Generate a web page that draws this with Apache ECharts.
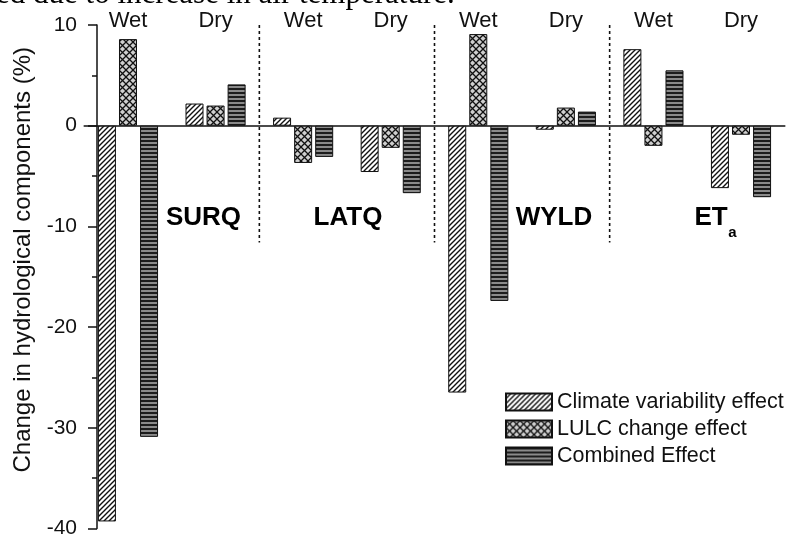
<!DOCTYPE html>
<html>
<head>
<meta charset="utf-8">
<script src="https://cdn.jsdelivr.net/npm/echarts@6/dist/echarts.min.js"></script>
<style>
  html, body { margin: 0; padding: 0; background: #fff; }
  #chart { width: 788px; height: 539px; }
</style>
</head>
<body>
<div id="chart"></div>
<script>
// Hydrological components and the two seasons plotted for each
const components = ['SURQ', 'LATQ', 'WYLD', 'ET'];
const seasons = ['Wet', 'Dry'];
const categories = components.flatMap(c => seasons.map(s => c + ' ' + s));

// Change (%) per component/season
const climateEffect  = [-39.3, 2.2, 0.8, -4.6, -26.5, -0.4, 7.6, -6.2];
const lulcEffect     = [8.6, 2.0, -3.7, -2.2, 9.1, 1.8, -2.0, -0.9];
const combinedEffect = [-30.9, 4.1, -3.1, -6.7, -17.4, 1.4, 5.5, -7.1];

const seriesNames = ['Climate variability effect', 'LULC change effect', 'Combined Effect'];
const yTicks = { min: -40, max: 10, step: 10 };

// Dashed dividers sit between the component groups (category-band units)
const dividerPositions = [1.5, 3.5, 5.5];
const dividerRange = [10, -11.6];

const FONT = "'Liberation Sans', Arial, sans-serif";

function makePattern(size, draw) {
  const c = document.createElement('canvas');
  c.width = size[0]; c.height = size[1];
  const ctx = c.getContext('2d');
  draw(ctx, size[0], size[1]);
  return { image: c, repeat: 'repeat' };
}

// Fine diagonal hatching
const hatchPattern = makePattern([5, 5], (ctx, w, h) => {
  ctx.fillStyle = '#fff'; ctx.fillRect(0, 0, w, h);
  ctx.strokeStyle = '#111'; ctx.lineWidth = 1.4;
  ctx.beginPath();
  ctx.moveTo(-1, h + 1); ctx.lineTo(w + 1, -1);
  ctx.moveTo(-1 - w, h + 1); ctx.lineTo(1, -1);
  ctx.moveTo(w - 1, h + 1); ctx.lineTo(2 * w + 1, -1);
  ctx.stroke();
});

// Cross-hatch lattice
const crossPattern = makePattern([7, 7], (ctx, w, h) => {
  ctx.fillStyle = '#cfcfcf'; ctx.fillRect(0, 0, w, h);
  ctx.strokeStyle = '#111'; ctx.lineWidth = 1.3;
  ctx.beginPath();
  ctx.moveTo(0, 0); ctx.lineTo(w, h);
  ctx.moveTo(w, 0); ctx.lineTo(0, h);
  ctx.stroke();
});

// Horizontal stripes
const stripePattern = makePattern([4, 4], (ctx, w, h) => {
  ctx.fillStyle = '#8a8a8a'; ctx.fillRect(0, 0, w, h);
  ctx.fillStyle = '#1c1c1c'; ctx.fillRect(0, 0, w, 2);
});

const patterns = [hatchPattern, crossPattern, stripePattern];
const values = [climateEffect, lulcEffect, combinedEffect];

const chart = echarts.init(document.getElementById('chart'), null, { renderer: 'canvas' });

const barSeries = seriesNames.map((name, i) => ({
  name,
  type: 'bar',
  xAxisIndex: 0,
  yAxisIndex: 0,
  data: values[i],
  barWidth: 18,
  barGap: '17%',
  itemStyle: { color: patterns[i], borderColor: '#111', borderWidth: 1 },
  silent: true
}));

const dividerSeries = dividerPositions.map(x => ({
  type: 'line',
  xAxisIndex: 2,
  yAxisIndex: 0,
  data: dividerRange.map(y => [x, y]),
  symbol: 'none',
  lineStyle: { color: '#111', width: 1.6, type: [3, 3] },
  silent: true
}));

chart.setOption({
  animation: false,
  backgroundColor: '#fff',
  grid: { left: 84.2, right: 3.2, top: 25, bottom: 9 },
  legend: {
    data: seriesNames,
    orient: 'vertical',
    left: 505,
    top: 391,
    padding: 0,
    itemWidth: 46,
    itemHeight: 17,
    itemGap: 5,
    icon: 'rect',
    textStyle: { fontFamily: FONT, fontSize: 21.5, color: '#111' }
  },
  xAxis: [
    {
      type: 'category',
      data: categories,
      axisLine: { onZero: true, lineStyle: { color: '#111', width: 1.5 } },
      axisTick: { show: false },
      axisLabel: { show: false },
      splitLine: { show: false }
    },
    {
      type: 'category',
      data: categories,
      position: 'top',
      axisLine: { show: false, onZero: false },
      axisTick: { show: false },
      axisLabel: {
        margin: -7,
        fontFamily: FONT,
        fontSize: 22,
        color: '#111',
        formatter: v => v.split(' ')[1]
      },
      splitLine: { show: false }
    },
    {
      type: 'value',
      min: -0.5,
      max: categories.length - 0.5,
      show: false
    }
  ],
  yAxis: {
    type: 'value',
    min: yTicks.min,
    max: yTicks.max,
    interval: yTicks.step,
    offset: -12.8,
    name: 'Change in hydrological components (%)',
    nameLocation: 'middle',
    nameGap: 62,
    nameTextStyle: { fontFamily: FONT, fontSize: 24, color: '#111', padding: [0, 0, 0, 34] },
    axisLine: { show: true, onZero: false, lineStyle: { color: '#111', width: 1.5 } },
    axisTick: { show: true, length: 9, lineStyle: { color: '#111', width: 1.5 } },
    minorTick: { show: true, splitNumber: 2, length: 5, lineStyle: { color: '#111', width: 1.5 } },
    axisLabel: { margin: 20, fontFamily: FONT, fontSize: 21, color: '#111' },
    splitLine: { show: false }
  },
  graphic: [
    {
      type: 'text', left: -4, top: -21,
      style: { text: 'ed due to increase in air temperature.', font: "31px 'Liberation Serif', 'Times New Roman', serif", fill: '#000' }
    },
    { type: 'text', x: 203.5, y: 218, style: { text: components[0], font: 'bold 26px ' + FONT, fill: '#000', align: 'center', verticalAlign: 'middle' } },
    { type: 'text', x: 348, y: 218, style: { text: components[1], font: 'bold 26px ' + FONT, fill: '#000', align: 'center', verticalAlign: 'middle' } },
    { type: 'text', x: 554, y: 218, style: { text: components[2], font: 'bold 26px ' + FONT, fill: '#000', align: 'center', verticalAlign: 'middle' } },
    { type: 'text', x: 711, y: 218, style: { text: components[3], font: 'bold 26px ' + FONT, fill: '#000', align: 'center', verticalAlign: 'middle' } },
    { type: 'text', x: 732.5, y: 233, style: { text: 'a', font: 'bold 15px ' + FONT, fill: '#000', align: 'center', verticalAlign: 'middle' } }
  ],
  series: barSeries.concat(dividerSeries)
});
</script>
</body>
</html>
